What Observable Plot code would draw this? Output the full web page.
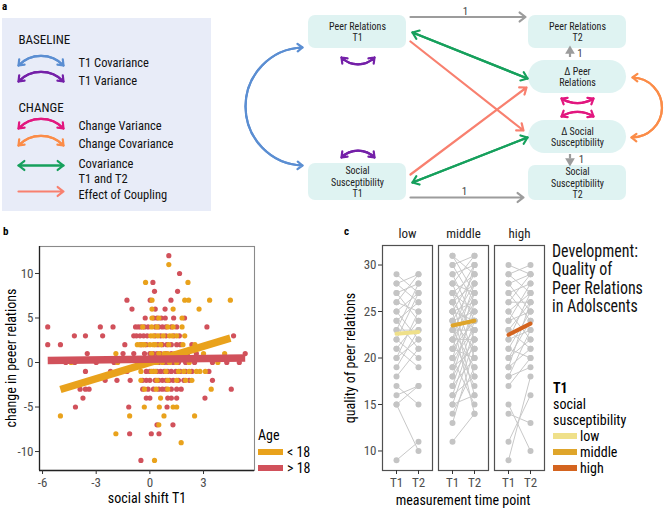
<!DOCTYPE html>
<html><head><meta charset="utf-8">
<script src="https://cdn.jsdelivr.net/npm/d3@7"></script>
<script src="https://cdn.jsdelivr.net/npm/@observablehq/plot@0.6"></script>
<style>
body{margin:0;background:#fff;}
#root{position:relative;width:667px;height:510px;overflow:hidden;font-family:"Roboto Condensed","Liberation Sans Narrow","DejaVu Sans Condensed","Arial Narrow","Liberation Sans",sans-serif;color:#000}
.pl{position:absolute;}
</style></head><body><div id="root"></div>
<script>
const FONT = '"Roboto Condensed","Liberation Sans Narrow","DejaVu Sans Condensed","Arial Narrow","Liberation Sans",sans-serif';

// ---------------- Panel a : texts ----------------
const legendGroups = ["BASELINE", "CHANGE"];
const legendItems = ["T1 Covariance", "T1 Variance", "Change Variance", "Change Covariance", "Covariance\nT1 and T2", "Effect of Coupling"];
const legendKinds = ["t1cov", "t1var", "chvar", "chcov", "cov12", "coupling"];
const nodeLabels = ["Peer Relations\nT1", "Social\nSusceptibility\nT1", "Peer Relations\nT2", "Δ Peer\nRelations", "Δ Social\nSusceptibility", "Social\nSusceptibility\nT2"];
const fixedLoadings = ["1", "1", "1", "1"];

// ---------------- Panel b : data ----------------
const ageGroups = ["< 18", "> 18"];
const ageColors = ["#E9A21C", "#D1515B"];
const bTicksX = [-6, -3, 0, 3];
const bTicksY = [-10, -5, 0, 5, 10];
// rows: [change in peer relations, [social shift T1 values]]
const teenRows = [
  [11, [1.06]],
  [9, [-0.24, 2.13]],
  [7, [0.12, 1.95, 2.17, 3.34, 4.5]],
  [6, [0.12, 1.3, 2.75]],
  [5, [0.12, 0.5, 1.8]],
  [4, [-0.4, 0.1, 0.4, 1.0, 1.3, 1.8]],
  [3, [0.05, 0.2, 0.45, 0.75, 1.1, 1.25, 1.5, 1.95]],
  [2, [-0.7, -0.55, -0.4, -0.3, 0.0, 0.2, 0.3, 0.6, 1.05, 1.85, 2.52]],
  [1, [-1.9, 0.1, 0.5, 0.8, 1.0, 1.4, 3.0, 4.18]],
  [0, [-4.4, -1.8, -0.2, 0.1, 0.4, 0.7, 1.1, 1.5, 2.2, 3.8]],
  [-1, [-0.5, 0.1, 0.3, 0.9, 1.6, 1.9, 2.2, 2.6, 2.8, 3.1]],
  [-2, [-0.5, 0.4, 1.0, 1.5, 2.0, 2.35]],
  [-3, [-0.3, 0.35, 1.0, 3.43]],
  [-4, [0.6]],
  [-5, [-0.31, 0.53, 1.3, 1.5]],
  [-6, [-5.0, -1.13, 0.79, 2.5]],
  [-7, [0.5]],
  [-8, [-1.9]],
  [-9, [1.75]],
  [-11, [0.26]]
];
const adultRows = [
  [12, [1.06]],
  [10, [1.66]],
  [9, [0.17]],
  [8, [0.26, 1.55]],
  [7, [-1.28, 0.02, 1.18]],
  [6, [-1.0, 0.3, 0.85]],
  [5, [-0.26, 0.21, 0.4, 0.64, 0.86, 1.33, 1.94]],
  [4, [-5.71, -2.77, -2.06, -0.8, -0.65, -0.5, -0.3, -0.1, 0.3, 0.5, 0.7, 0.9, 1.2, 1.5, 3.19]],
  [3, [-4.22, -3.6, -2.64, -0.9, -0.75, -0.55, -0.35, -0.15, 0.3, 0.6, 0.9, 1.35, 1.65, 4.68]],
  [2, [-5.71, -5.0, -1.4, -0.5, -0.2, 0.45, 0.7, 0.95, 1.2, 1.5, 1.7, 2.35]],
  [1, [-3.5, -1.5, -0.9, -0.3, 0.0, 0.2, 0.4, 0.6, 0.9, 1.2, 1.5, 1.8, 2.1, 2.6, 5.33]],
  [0, [-4.7, -4.2, -3.0, -2.0, -0.3, 0.0, 0.2, 0.3, 0.5, 0.8, 1.0, 1.3, 1.6, 2.0, 2.5, 3.5, 4.3, 5.0]],
  [-1, [-3.6, -2.2, -1.28, -0.2, 0.0, 0.2, 0.4, 0.6, 0.8, 1.0, 1.2, 1.45, 1.7, 2.0, 2.35, 3.3]],
  [-2, [-2.5, -1.84, -1.1, -0.4, -0.2, 0.0, 0.3, 0.5, 0.7, 0.9, 1.1, 1.3, 1.6, 1.9, 2.2, 3.5]],
  [-3, [-3.9, -3.6, -3.4, -0.4, -0.1, 0.2, 0.5, 0.7, 0.9, 1.2, 1.5, 1.75, 4.55]],
  [-4, [-3.74, -0.2, 0.0, 1.0, 1.2, 1.5, 3.08]],
  [-5, [-4.16, -1.18, 0.96]],
  [-7, [0.4, 1.29]],
  [-8, [-1.13, 0.08, 0.51]],
  [-11, [-0.5]]
];
// fitted regression lines (endpoints)
const fitX = [[-5.0, 4.5], [-5.71, 5.33]];
const fitY = [[-3.03, 2.73], [0.22, 0.52]];

// ---------------- Panel c : data ----------------
const levels = ["low", "middle", "high"];
const levelColors = ["#EFE08A", "#DFA52B", "#D4641F"];
const times = ["T1", "T2"];
const cTicksY = [10, 15, 20, 25, 30];
const lowPairs = [[29,27],[28,29],[28,26],[27,28],[27,24],[26,29],[26,25],[25,27],[25,22],[24,26],[24,21],[23,28],[23,23],[22,27],[22,20],[21,24],[21,19],[20,25],[20,22],[19,23],[18,21],[17,15],[16,17],[15,17],[15,10],[9,11]];
const middlePairs = [[31,29],[31,27],[30,31],[30,26],[29,30],[29,24],[28,31],[28,27],[28,22],[27,29],[27,25],[27,20],[26,30],[26,28],[26,23],[26,18],[25,29],[25,26],[25,24],[25,16],[24,28],[24,25],[24,21],[24,14],[23,27],[23,23],[23,19],[22,30],[22,26],[22,22],[22,17],[21,28],[21,24],[21,20],[20,27],[20,23],[20,15],[19,25],[19,21],[18,26],[18,22],[17,24],[17,20],[16,23],[16,18],[15,22],[15,16],[14,19],[13,21],[11,14]];
const highPairs = [[30,29],[29,30],[29,27],[28,29],[28,25],[27,28],[27,24],[26,29],[26,26],[25,27],[25,22],[24,28],[24,25],[23,26],[23,21],[22,27],[22,23],[21,25],[21,20],[20,24],[20,22],[19,26],[19,21],[18,23],[18,19],[17,20],[15,10],[14,13],[11,16],[9,18]];
const meanT1 = [22.6, 23.5, 22.5];
const meanT2 = [22.8, 24.0, 23.7];

// ================= layout / styles =================
const kindColor = {t1cov:"#5B8ED2", t1var:"#7420A8", chvar:"#E2177F", chcov:"#FB8C48", cov12:"#16A05C", coupling:"#F8806F", fixed:"#9C9C9C"};
const root = document.getElementById("root");

function txt(s, x, y, o = {}) {
  const d = document.createElement("div");
  d.textContent = s;
  const tx = o.anchor === "middle" ? "-50%" : "0";
  Object.assign(d.style, {
    position: "absolute", left: x + "px", top: y + "px", whiteSpace: "pre",
    fontSize: (o.size || 13) + "px", fontWeight: o.weight || 400, color: o.color || "#000",
    lineHeight: o.lh || "1.15",
    transform: `translate(${tx},-50%)` + (o.rotate ? ` rotate(${o.rotate}deg)` : "")
  });
  root.appendChild(d);
}
function swatch(color, x, y, w, h) {
  const d = document.createElement("div");
  Object.assign(d.style, {position:"absolute", left:x+"px", top:(y-h/2)+"px", width:w+"px", height:h+"px", background:color});
  root.appendChild(d);
}
function place(node, x, y) {
  const w = document.createElement("div");
  w.className = "pl"; w.style.left = x + "px"; w.style.top = y + "px";
  w.appendChild(node); root.appendChild(w);
}

// ================= Panel a (path diagram, diagram units) =================
const legendBox = {x1: 2, x2: 211, y1: 18, y2: 211};
const legendGroupY = [39, 107];
const legendItemY = [62, 80, 125, 143, 170, 194];
const legendSwatchY = [65, 81, 128, 145, 165, 191];
const nodeLayout = [
  {x1:308, x2:406, y1:15, y2:48, pill:false},
  {x1:308, x2:406, y1:163, y2:200, pill:false},
  {x1:528, x2:626, y1:15, y2:48, pill:false},
  {x1:528, x2:626, y1:60, y2:93, pill:true},
  {x1:528, x2:626, y1:120, y2:153, pill:true},
  {x1:528, x2:626, y1:165, y2:200, pill:false}
];
const arrowLayout = [
  {kind:"t1cov", x1:302, y1:47, x2:302, y2:165, bend:-88, dbl:true},
  {kind:"t1var", x1:341, y1:57, x2:374, y2:57, bend:-45, dbl:true},
  {kind:"t1var", x1:341, y1:157, x2:374, y2:157, bend:45, dbl:true},
  {kind:"chvar", x1:561, y1:98, x2:593, y2:98, bend:-32, dbl:true},
  {kind:"chvar", x1:561, y1:116, x2:593, y2:116, bend:32, dbl:true},
  {kind:"chcov", x1:632, y1:77, x2:631, y2:137, bend:96, dbl:true},
  {kind:"cov12", x1:412, y1:32, x2:527, y2:78, bend:0, dbl:true},
  {kind:"cov12", x1:412, y1:182, x2:527, y2:137, bend:0, dbl:true},
  {kind:"coupling", x1:410, y1:41, x2:523, y2:130, bend:0, dbl:false},
  {kind:"coupling", x1:410, y1:174, x2:526, y2:87, bend:0, dbl:false},
  {kind:"fixed", x1:410, y1:16.5, x2:525, y2:16.5, bend:0, dbl:false},
  {kind:"fixed", x1:410, y1:197, x2:523, y2:197, bend:0, dbl:false}
];
const loadingLayout = [{x:465, y:10.5}, {x:464, y:190.5}, {x:579.5, y:53}, {x:581, y:159}];
const smallArrowLayout = [{x:569.5, y1:57, y2:52, tip:50.5, rot:0}, {x:569.5, y1:154, y2:158.5, tip:160.5, rot:180}];

const legendArrows = legendKinds.map((k, i) => ({
  kind: k, x1: 18, x2: 63, y1: legendSwatchY[i], y2: legendSwatchY[i],
  bend: (k === "cov12" || k === "coupling") ? 0 : 46, dbl: k !== "coupling"
}));

function arrowMarks(list) {
  const marks = [];
  for (const a of list) {
    const curved = a.bend !== 0;
    const o = {x1:"x1", y1:"y1", x2:"x2", y2:"y2", stroke: kindColor[a.kind], strokeWidth: 2.2, headLength: curved ? 4.2 : 5, headAngle: 75};
    marks.push(Plot.arrow([a], {...o, bend: a.bend}));
    if (a.dbl) marks.push(Plot.arrow([{x1:a.x2, y1:a.y2, x2:a.x1, y2:a.y1}], {...o, bend: -a.bend}));
  }
  return marks;
}

const nodes = nodeLabels.map((label, i) => ({label, ...nodeLayout[i]}));
const plotA = Plot.plot({
  width: 667, height: 212, margin: 0,
  x: {domain: [0, 667], range: [0, 667]},
  y: {domain: [0, 212], range: [0, 212]},
  axis: null,
  style: {fontFamily: FONT, background: "transparent", overflow: "visible"},
  marks: [
    Plot.rect([legendBox], {x1:"x1", x2:"x2", y1:"y1", y2:"y2", fill:"#E8ECF8"}),
    Plot.text(legendGroups, {x: () => 18, y: (d, i) => legendGroupY[i], text: d => d, textAnchor: "start", fontSize: 13, fill: "#111"}),
    Plot.text(legendItems, {x: () => 78, y: (d, i) => legendItemY[i], text: d => d, textAnchor: "start", fontSize: 12.5, lineHeight: 1.2, fill: "#111"}),
    ...arrowMarks(legendArrows),
    Plot.rect(nodes.filter(d => !d.pill), {x1:"x1", x2:"x2", y1:"y1", y2:"y2", fill:"#DFF3F2", rx: 7}),
    Plot.rect(nodes.filter(d => d.pill), {x1:"x1", x2:"x2", y1:"y1", y2:"y2", fill:"#DFF3F2", rx: 16.5}),
    Plot.text(nodes, {x: d => (d.x1 + d.x2) / 2, y: d => (d.y1 + d.y2) / 2, text: "label", fontSize: 10, lineHeight: 1.12, fill: "#222"}),
    ...arrowMarks(arrowLayout),
    Plot.ruleX(smallArrowLayout, {x:"x", y1:"y1", y2:"y2", stroke: kindColor.fixed, strokeWidth: 2.2}),
    Plot.dot(smallArrowLayout, {x:"x", y:"tip", symbol:"triangle", r: 3.6, fill: kindColor.fixed, rotate: "rot"}),
    Plot.text(fixedLoadings, {x: (d, i) => loadingLayout[i].x, y: (d, i) => loadingLayout[i].y, text: d => d, fontSize: 11, fill: "#444"})
  ]
});
place(plotA, 0, 0);
txt("a", 2, 7, {size: 11, weight: 700});

// ================= Panel b =================
const bPoints = [
  ...adultRows.flatMap(([y, xs]) => xs.map(x => ({group: ageGroups[1], x, y}))),
  ...teenRows.flatMap(([y, xs]) => xs.map(x => ({group: ageGroups[0], x, y})))
];
const fits = ageGroups.flatMap((g, i) => fitX[i].map((x, j) => ({group: g, x, y: fitY[i][j]})));
const bDomX = [-6.17, 5.85], bDomY = [-12.13, 13.03];
const plotB = Plot.plot({
  width: 330, height: 282, marginLeft: 39, marginRight: 76, marginTop: 18, marginBottom: 40,
  x: {domain: bDomX}, y: {domain: bDomY},
  color: {domain: ageGroups, range: ageColors},
  style: {fontFamily: FONT, fontSize: "13px", color: "#4d4d4d", background: "transparent", overflow: "visible"},
  marks: [
    Plot.frame({stroke: "#8a8a8a", strokeWidth: 1.1}),
    Plot.ruleX([bDomX[0]], {stroke: "#222", strokeWidth: 1.3}),
    Plot.ruleY([bDomY[0]], {stroke: "#222", strokeWidth: 1.3}),
    Plot.axisX({ticks: bTicksX, tickFormat: d => String(d), tickSize: 4, tickPadding: 3, label: null, fontSize: 13, stroke: "#333"}),
    Plot.axisY({ticks: bTicksY, tickFormat: d => String(d), tickSize: 4, tickPadding: 2, label: null, fontSize: 13, stroke: "#333"}),
    Plot.dot(bPoints, {x: "x", y: "y", fill: "group", r: 2.6}),
    Plot.line(fits, {x: "x", y: "y", z: "group", stroke: "group", strokeWidth: 7.5, strokeLinecap: "butt"})
  ]
});
place(plotB, 0, 228);
txt("b", 3, 232, {size: 11, weight: 700});
txt("change in peeer relations", 11, 358, {size: 14, anchor: "middle", rotate: -90});
txt("social shift T1", 147, 498, {size: 14, anchor: "middle"});
txt("Age", 258, 435, {size: 14});
swatch(ageColors[0], 258, 452, 25, 6.5);
swatch(ageColors[1], 258, 468, 25, 6.5);
txt(ageGroups[0], 287, 452, {size: 14});
txt(ageGroups[1], 287, 468, {size: 14});

// ================= Panel c =================
const cRows = [];
[lowPairs, middlePairs, highPairs].forEach((pairs, li) => pairs.forEach(([a, b], i) => {
  cRows.push({level: levels[li], id: levels[li] + i, time: times[0], value: a});
  cRows.push({level: levels[li], id: levels[li] + i, time: times[1], value: b});
}));
const meanRows = levels.flatMap((lv, i) => [{level: lv, time: times[0], value: meanT1[i]}, {level: lv, time: times[1], value: meanT2[i]}]);
const plotC = Plot.plot({
  width: 337, height: 282, marginLeft: 51, marginRight: 122, marginTop: 17, marginBottom: 40,
  fx: {domain: levels, paddingInner: 0.1, paddingOuter: 0, axis: null},
  x: {type: "point", domain: times, padding: 0.6},
  y: {domain: [7.9, 32.1]},
  color: {domain: levels, range: levelColors},
  style: {fontFamily: FONT, fontSize: "13px", color: "#4d4d4d", background: "transparent", overflow: "visible"},
  marks: [
    Plot.line(cRows, {fx: "level", x: "time", y: "value", z: "id", stroke: "#c8c8c8", strokeWidth: 1}),
    Plot.dot(cRows, {fx: "level", x: "time", y: "value", r: 3, fill: "#c4c4c4"}),
    Plot.line(meanRows, {fx: "level", x: "time", y: "value", z: "level", stroke: "level", strokeWidth: 4}),
    Plot.frame({stroke: "#505050", strokeWidth: 1.2}),
    Plot.axisX({tickSize: 4, tickPadding: 3, label: null, fontSize: 13, stroke: "#333"}),
    Plot.axisY({ticks: cTicksY, tickSize: 4, tickPadding: 2, label: null, fontSize: 13, stroke: "#333"}),
    Plot.text(levels, {fx: d => d, text: d => d, frameAnchor: "top", lineAnchor: "middle", dy: -12, fontSize: 13, fill: "#222"})
  ]
});
place(plotC, 330, 228);
txt("c", 344, 232, {size: 11, weight: 700});
txt("quality of peer relations", 350, 358, {size: 14, anchor: "middle", rotate: -90});
txt("measurement time point", 463, 500, {size: 14, anchor: "middle"});
const title = document.createElement("div");
title.textContent = "Development:\nQuality of\nPeer Relations\nin Adolscents";
Object.assign(title.style, {position: "absolute", left: "552px", top: "242px", whiteSpace: "pre", fontSize: "19px", lineHeight: "18.4px", color: "#111", transform: "scaleX(0.84)", transformOrigin: "0 0"});
root.appendChild(title);
txt("T1", 553, 388, {size: 14, weight: 700});
txt("social", 553, 404, {size: 14});
txt("susceptibility", 553, 420, {size: 14});
levels.forEach((lv, i) => {
  swatch(levelColors[i], 553, 436 + i * 16.2, 24, 6);
  txt(lv, 580, 436 + i * 16.2, {size: 14});
});
</script></body></html>
